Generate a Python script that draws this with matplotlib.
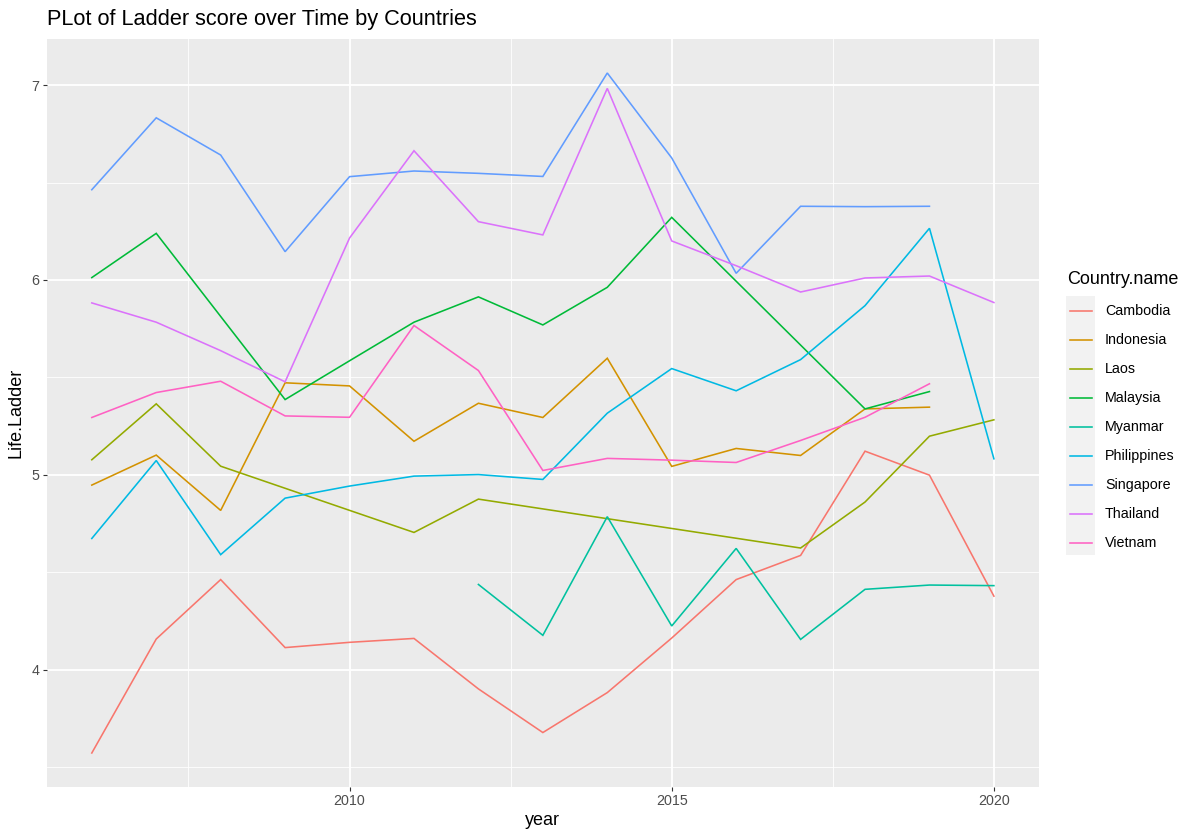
import numpy as np
import matplotlib
matplotlib.use("Agg")
import matplotlib.pyplot as plt
from matplotlib.patches import Rectangle
from matplotlib.lines import Line2D

plt.rcParams['font.family'] = ['Liberation Sans', 'DejaVu Sans']

years = list(range(2006, 2021))
countries = ["Cambodia", "Indonesia", "Laos", "Malaysia", "Myanmar",
             "Philippines", "Singapore", "Thailand", "Vietnam"]
colors = ["#F8766D", "#D39200", "#93AA00", "#00BA38", "#00C19F",
          "#00B9E3", "#619CFF", "#DB72FB", "#FF61C3"]

cambodia = [3.572, 4.157, 4.462, 4.113, 4.140, 4.160, 3.901, 3.677, 3.882, 4.162, 4.462, 4.586, 5.121, 4.998, 4.377]
indonesia = [4.947, 5.101, 4.817, 5.472, 5.456, 5.172, 5.367, 5.294, 5.598, 5.043, 5.135, 5.099, 5.338, 5.347, None]
laos = [5.077, 5.364, 5.044, None, None, 4.704, 4.875, None, None, None, None, 4.624, 4.860, 5.198, 5.282]
malaysia = [6.012, 6.239, None, 5.386, 5.585, 5.783, 5.913, 5.769, 5.962, 6.321, None, None, 5.338, 5.427, None]
myanmar = [None, None, None, None, None, None, 4.437, 4.176, 4.785, 4.224, 4.622, 4.155, 4.412, 4.434, 4.431]
philippines = [4.673, 5.073, 4.590, 4.880, 4.942, 4.993, 5.001, 4.976, 5.316, 5.545, 5.431, 5.591, 5.868, 6.265, 5.082]
singapore = [6.463, 6.832, 6.641, 6.145, 6.530, 6.559, 6.547, 6.531, 7.062, 6.626, 6.034, 6.378, 6.376, 6.378, None]
thailand = [5.882, 5.783, 5.637, 5.477, 6.215, 6.663, 6.299, 6.231, 6.983, 6.200, 6.073, 5.938, 6.010, 6.020, 5.884]
vietnam = [5.294, 5.422, 5.480, 5.302, 5.295, 5.766, 5.535, 5.022, 5.084, 5.075, 5.063, 5.176, 5.295, 5.467, None]

series = [cambodia, indonesia, laos, malaysia, myanmar, philippines, singapore, thailand, vietnam]

W, H = 1200, 840
fig = plt.figure(figsize=(W / 100, H / 100), dpi=100)
L, R, T, B = 46.7, 1039, 39, 787
ax = fig.add_axes([L / W, 1 - B / H, (R - L) / W, (B - T) / H])
ax.set_facecolor("#EBEBEB")
for s in ax.spines.values():
    s.set_visible(False)

allv = []
for name, vals, c in zip(countries, series, colors):
    xs = [y for y, v in zip(years, vals) if v is not None]
    vs = [v for v in vals if v is not None]
    allv += vs
    ax.plot(xs, vs, color=c, lw=1.15, solid_joinstyle='miter', zorder=3)

ymin, ymax = min(allv), max(allv)
ye = (ymax - ymin) * 0.05
ax.set_ylim(ymin - ye, ymax + ye)
xe = (max(years) - min(years)) * 0.05
ax.set_xlim(min(years) - xe, max(years) + xe)

ax.set_xticks([2010, 2015, 2020])
ax.set_xticks([2007.5, 2012.5, 2017.5], minor=True)
ax.set_yticks([4, 5, 6, 7])
ax.set_yticks([3.5, 4.5, 5.5, 6.5], minor=True)
ax.grid(which='major', color='white', lw=1.3, zorder=1)
ax.grid(which='minor', color='white', lw=0.6, zorder=1)
ax.set_axisbelow(True)
ax.tick_params(which='major', length=3.2, width=0.8, color='#333333',
               labelcolor='#4D4D4D', labelsize=10.3, pad=2)
ax.tick_params(which='minor', length=0)

ax.set_xlabel("year", fontsize=13, color='black', labelpad=3)
ax.set_ylabel("Life.Ladder", fontsize=13, color='black', labelpad=5)

fig.text(47 / W, 1 - 25 / H, "PLot of Ladder score over Time by Countries",
         fontsize=15.7, color='black', ha='left', va='baseline')

# legend
fig.text(1067 / W, 1 - 280 / H, "Country.name", fontsize=13, ha='left', va='center')
fig.patches.append(Rectangle((1066 / W, 1 - 555 / H), 29 / W, 259 / H,
                             transform=fig.transFigure, facecolor='#F2F2F2',
                             edgecolor='none'))
for i, (name, c) in enumerate(zip(countries, colors)):
    yk = 1 - (311 + 29 * i) / H
    fig.lines.append(Line2D([1070 / W, 1092 / W], [yk, yk], transform=fig.transFigure,
                            color=c, lw=1.15))
    fig.text(1105 / W, yk, name, fontsize=10.3, ha='left', va='center', color='black')

fig.savefig("out.png", dpi=100)
